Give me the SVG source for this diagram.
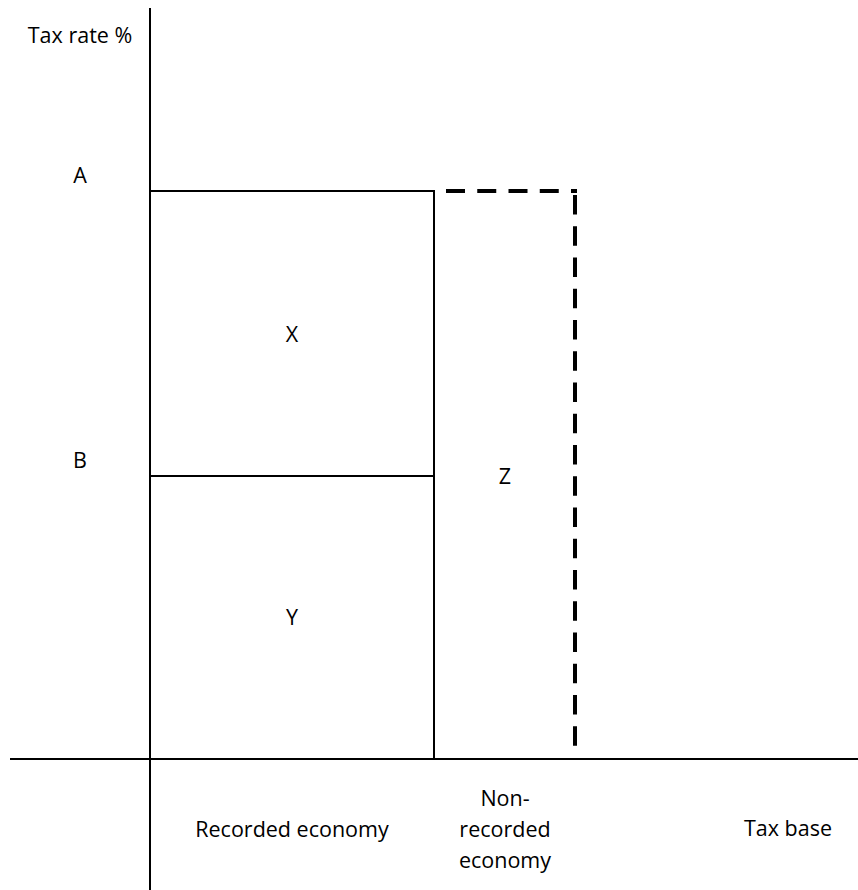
<svg xmlns="http://www.w3.org/2000/svg" width="858" height="890" viewBox="0 0 858 890">
<style>
text{font-family:"Open Sans","Liberation Sans",sans-serif;font-size:21.5px;fill:#000;text-anchor:middle}
.ax{stroke:#000;stroke-width:2;fill:none}
.ln{stroke:#000;stroke-width:2;fill:none}
.dh{stroke:#000;stroke-width:4;fill:none;stroke-dasharray:19 12.25}
.dv{stroke:#000;stroke-width:4;fill:none;stroke-dasharray:19.6 11.65}
</style>
<rect width="858" height="890" fill="#fff"/>
<g id="axes">
<line class="ax" x1="150" y1="8" x2="150" y2="890"/>
<line class="ax" x1="10" y1="759" x2="858" y2="759"/>
<text x="80" y="43">Tax rate %</text>
<text x="788" y="836">Tax base</text>
<text x="80" y="183">A</text>
<text x="80" y="468">B</text>
</g>
<g id="X">
<rect class="ln" x="150" y="191" width="284" height="285"/>
<text x="292" y="342">X</text>
</g>
<g id="Y">
<rect class="ln" x="150" y="476" width="284" height="283"/>
<text x="292" y="625">Y</text>
<text x="292" y="837">Recorded economy</text>
</g>
<g id="Z">
<path class="dh" d="M446 191 H577"/>
<path class="dv" d="M575 195 V746"/>
<text x="505" y="484">Z</text>
<text x="505" y="806">Non-</text>
<text x="505" y="837">recorded</text>
<text x="505" y="868">economy</text>
</g>
</svg>
